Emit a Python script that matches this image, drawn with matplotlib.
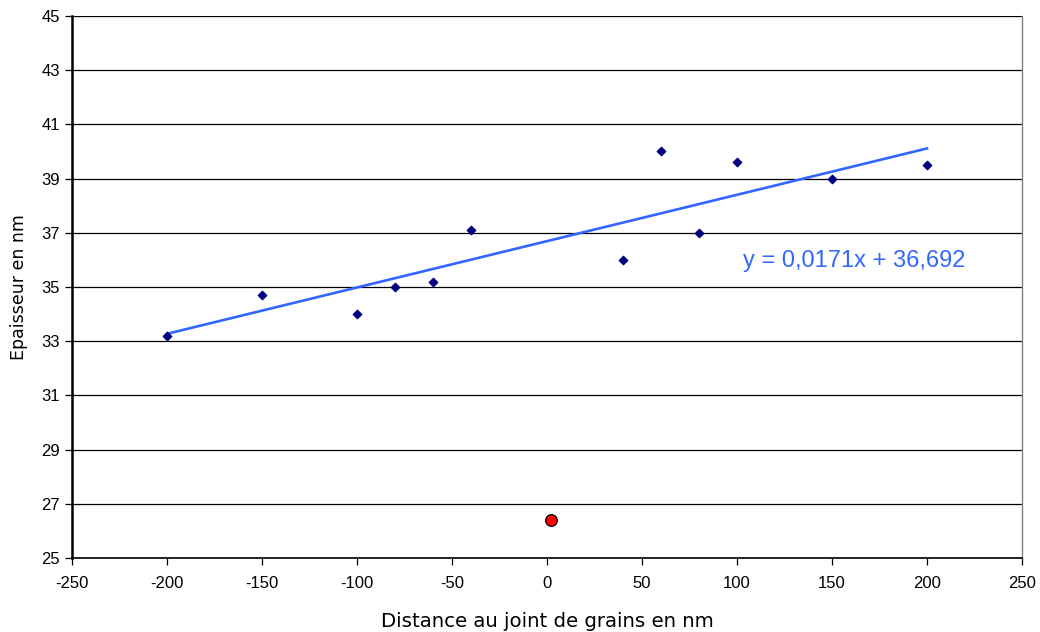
import matplotlib.pyplot as plt
import numpy as np

plt.rcParams["axes.unicode_minus"] = False

# distance to grain boundary (nm) and thickness (nm)
dist = [-200, -150, -100, -80, -60, -40, 40, 60, 80, 100, 150, 200]
epais = [33.2, 34.7, 34.0, 35.0, 35.2, 37.1, 36.0, 40.0, 37.0, 39.6, 39.0, 39.5]
joint_x = [2]
joint_y = [26.4]
slope = 0.0171
intercept = 36.692
x_ticks = list(range(-250, 251, 50))
y_ticks = list(range(25, 46, 2))

fig = plt.figure(figsize=(10.4, 6.32), dpi=100)
ax = fig.add_axes([0.0692, 0.1171, 0.9135, 0.8576])

ax.grid(axis="y", color="black", linewidth=0.9)
ax.set_axisbelow(True)

xfit = np.array([-200, 200])
ax.plot(xfit, slope * xfit + intercept, color="#3366FF", linewidth=1.9, zorder=2)
ax.scatter(dist, epais, marker="D", s=18, color="#000080", zorder=3)
ax.scatter(joint_x, joint_y, marker="o", s=70, color="red", edgecolors="black",
           linewidths=0.9, zorder=3)

ax.text(103, 35.95, "y = 0,0171x + 36,692", color="#3366FF", fontsize=17,
        family="Liberation Sans", va="center", ha="left")

ax.set_xlim(-250, 250)
ax.set_ylim(25, 45)
ax.set_xticks(x_ticks)
ax.set_yticks(y_ticks)
for lab in ax.get_xticklabels() + ax.get_yticklabels():
    lab.set_family("Liberation Sans")
    lab.set_fontsize(12)
ax.tick_params(direction="out", length=5, width=0.9, color="black")
ax.tick_params(axis="x", pad=8)

ax.spines["top"].set_visible(False)
ax.spines["right"].set_color("#808080")
ax.spines["right"].set_linewidth(1.0)
ax.spines["left"].set_linewidth(1.8)
ax.spines["bottom"].set_linewidth(1.2)

ax.set_xlabel("Distance au joint de grains en nm", fontsize=14.2, labelpad=15)
ax.set_ylabel("Epaisseur en nm", fontsize=12.5, labelpad=10)

fig.savefig("out.png", dpi=100)
